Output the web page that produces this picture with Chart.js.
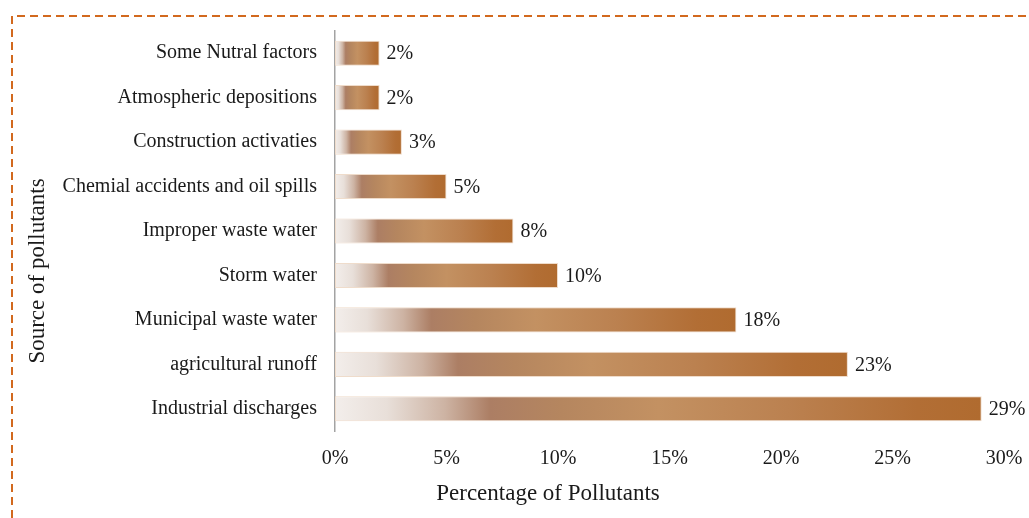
<!DOCTYPE html>
<html>
<head>
<meta charset="utf-8">
<script src="https://cdn.jsdelivr.net/npm/chart.js@4"></script>
<style>
  body { margin: 0; background: #ffffff; }
  #wrap { width: 1029px; height: 518px; position: relative; }
</style>
</head>
<body>
<div id="wrap"><canvas id="barChart"></canvas></div>
<script>
  // Data (top to bottom)
  const sources = [
    'Some Nutral factors',
    'Atmospheric depositions',
    'Construction activaties',
    'Chemial accidents and oil spills',
    'Improper waste water',
    'Storm water',
    'Municipal waste water',
    'agricultural runoff',
    'Industrial discharges'
  ];
  const percentages = [2, 2, 3, 5, 8, 10, 18, 23, 29];
  const xTicks = [0, 5, 10, 15, 20, 25, 30];

  const serif = '"Liberation Serif", "Times New Roman", serif';

  // Gradient along each bar, from pale on the left to copper on the right
  function barGradient(context) {
    const chart = context.chart;
    if (!chart.chartArea || context.type !== 'data') return '#b98150';
    const xScale = chart.scales.x;
    const x0 = xScale.getPixelForValue(0);
    const x1 = xScale.getPixelForValue(context.raw);
    const g = chart.ctx.createLinearGradient(x0, 0, x1, 0);
    g.addColorStop(0, '#f3eeeb');
    g.addColorStop(0.08, '#e8dfd9');
    g.addColorStop(0.17, '#cdb3a3');
    g.addColorStop(0.24, '#ac7e64');
    g.addColorStop(0.35, '#b5865f');
    g.addColorStop(0.5, '#c39162');
    g.addColorStop(0.7, '#bb8150');
    g.addColorStop(0.9, '#b26e35');
    g.addColorStop(1, '#b06b2f');
    return g;
  }

  // Value labels, axis titles and the dashed frame
  const extrasPlugin = {
    id: 'extras',
    afterDraw(chart) {
      const ctx = chart.ctx;
      const meta = chart.getDatasetMeta(0);
      ctx.save();
      ctx.fillStyle = '#1a1a1a';
      ctx.font = '20px ' + serif;
      ctx.textAlign = 'left';
      ctx.textBaseline = 'middle';
      meta.data.forEach((bar, i) => {
        ctx.fillText(percentages[i] + '%', bar.x + 7, bar.y + 1);
      });

      ctx.font = '23px ' + serif;
      ctx.textAlign = 'center';
      ctx.fillText('Percentage of Pollutants', 548, 494);

      ctx.translate(38, 271);
      ctx.rotate(-Math.PI / 2);
      ctx.fillText('Source of pollutants', 0, 0);
      ctx.restore();

      ctx.save();
      ctx.strokeStyle = '#d2691e';
      ctx.lineWidth = 2;
      ctx.setLineDash([8, 5]);
      ctx.beginPath();
      ctx.moveTo(12, 518);
      ctx.lineTo(12, 16);
      ctx.lineTo(1029, 16);
      ctx.stroke();
      ctx.restore();
    }
  };

  const ctx = document.getElementById('barChart').getContext('2d');
  const barChart = new Chart(ctx, {
    type: 'bar',
    data: {
      labels: sources,
      datasets: [
        {
          label: 'Percentage of Pollutants',
          data: percentages,
          backgroundColor: barGradient,
          borderColor: '#efdccb',
          borderWidth: 1,
          borderSkipped: false,
          barPercentage: 0.565,
          categoryPercentage: 1,
        },
      ],
    },
    options: {
      indexAxis: 'y',
      responsive: true,
      maintainAspectRatio: false,
      animation: false,
      layout: {
        padding: { top: 31, right: 25, bottom: 0, left: 0 },
      },
      plugins: {
        legend: { display: false },
        tooltip: { enabled: false },
      },
      scales: {
        x: {
          min: 0,
          max: 30,
          afterFit: (scale) => {
            scale.height = 87;
            scale.paddingLeft = 0;
            scale.paddingRight = 0;
          },
          afterBuildTicks: (scale) => {
            scale.ticks = xTicks.map((v) => ({ value: v }));
          },
          grid: { display: false, drawTicks: false },
          border: { display: false },
          ticks: {
            padding: 16,
            color: '#1a1a1a',
            font: { family: serif, size: 20 },
            callback: (value) => value + '%',
          },
        },
        y: {
          afterFit: (scale) => {
            scale.width = 335;
            scale.paddingTop = 0;
            scale.paddingBottom = 0;
          },
          grid: { display: false, drawTicks: false },
          border: { display: true, color: '#a3a3a3', width: 1.5 },
          ticks: {
            padding: 18,
            color: '#1a1a1a',
            font: { family: serif, size: 20 },
          },
        },
      },
    },
    plugins: [extrasPlugin],
  });
</script>
</body>
</html>
